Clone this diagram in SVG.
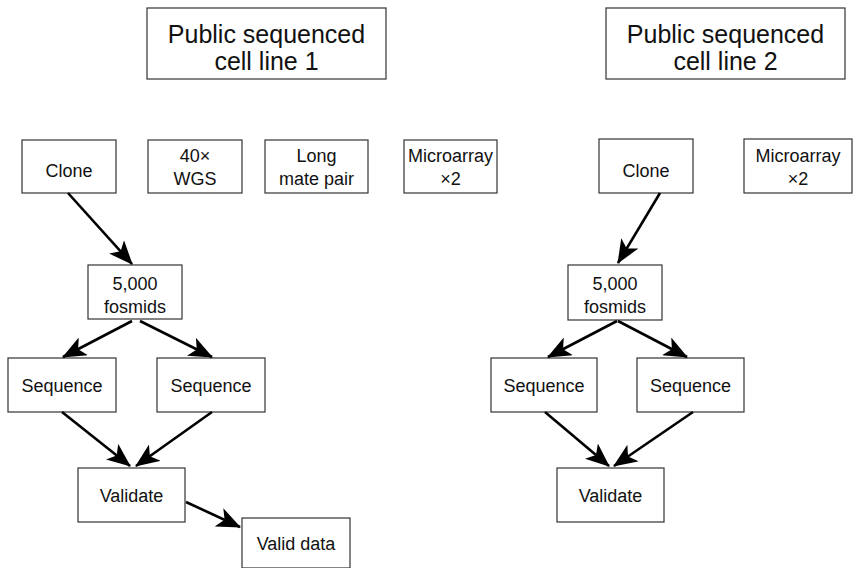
<svg xmlns="http://www.w3.org/2000/svg" width="856" height="568" viewBox="0 0 856 568">
<style>
.box{fill:#fff;stroke:#333;stroke-width:1.2}
.t{font-family:"Liberation Sans",Arial,sans-serif;font-size:18px;fill:#111;text-anchor:middle}
.title{font-family:"Liberation Sans",Arial,sans-serif;font-size:25px;fill:#111;text-anchor:middle}
.c{stroke:#000;stroke-width:2.6;fill:none;marker-end:url(#ah)}
</style>
<defs>
<marker id="ah" markerUnits="userSpaceOnUse" viewBox="0 0 24 20" refX="23" refY="10" markerWidth="24" markerHeight="20" orient="auto">
<path d="M0,0 L24,10 L0,20 L6,10 Z" fill="#000"/>
</marker>
</defs>
<rect width="856" height="568" fill="#fff"/>
<g id="title1"><rect class="box" x="147" y="8" width="239" height="71"/><text class="title" x="266.5" y="43">Public sequenced</text><text class="title" x="266.5" y="70">cell line 1</text></g>
<g id="title2"><rect class="box" x="606" y="8" width="239" height="71"/><text class="title" x="725.5" y="43">Public sequenced</text><text class="title" x="725.5" y="70">cell line 2</text></g>
<g id="clone1"><rect class="box" x="22" y="140" width="94" height="53"/><text class="t" x="69" y="177">Clone</text></g>
<g id="wgs"><rect class="box" x="148" y="140" width="94" height="53"/><text class="t" x="195" y="162">40×</text><text class="t" x="195" y="185">WGS</text></g>
<g id="matepair"><rect class="box" x="265" y="140" width="103" height="53"/><text class="t" x="316.5" y="162">Long</text><text class="t" x="316.5" y="185">mate pair</text></g>
<g id="micro1"><rect class="box" x="404" y="140" width="93" height="53"/><text class="t" x="450.5" y="162">Microarray</text><text class="t" x="450.5" y="185">×2</text></g>
<g id="fos1"><rect class="box" x="88" y="265" width="94" height="54"/><text class="t" x="135" y="290">5,000</text><text class="t" x="135" y="313">fosmids</text></g>
<g id="seq1a"><rect class="box" x="8" y="358" width="108" height="54"/><text class="t" x="62" y="392">Sequence</text></g>
<g id="seq1b"><rect class="box" x="157" y="358" width="108" height="54"/><text class="t" x="211" y="392">Sequence</text></g>
<g id="val1"><rect class="box" x="78" y="468" width="107" height="54"/><text class="t" x="131.5" y="502">Validate</text></g>
<g id="valid"><rect class="box" x="242" y="518" width="108" height="50"/><text class="t" x="296" y="550">Valid data</text></g>
<g id="clone2"><rect class="box" x="599" y="139" width="94" height="54"/><text class="t" x="646" y="177">Clone</text></g>
<g id="micro2"><rect class="box" x="744" y="139" width="108" height="54"/><text class="t" x="798" y="162">Microarray</text><text class="t" x="798" y="185">×2</text></g>
<g id="fos2"><rect class="box" x="568" y="265" width="94" height="55"/><text class="t" x="615" y="290">5,000</text><text class="t" x="615" y="313">fosmids</text></g>
<g id="seq2a"><rect class="box" x="491" y="358" width="106" height="54"/><text class="t" x="544" y="392">Sequence</text></g>
<g id="seq2b"><rect class="box" x="637" y="358" width="107" height="54"/><text class="t" x="690.5" y="392">Sequence</text></g>
<g id="val2"><rect class="box" x="557" y="468" width="107" height="54"/><text class="t" x="610.5" y="502">Validate</text></g>
<g id="connectors">
<line class="c" x1="68" y1="193" x2="132" y2="264"/>
<line class="c" x1="132" y1="321" x2="63" y2="357"/>
<line class="c" x1="140" y1="321" x2="212" y2="357"/>
<line class="c" x1="62" y1="412" x2="130" y2="466"/>
<line class="c" x1="212" y1="412" x2="136" y2="466"/>
<line class="c" x1="186" y1="502" x2="240" y2="527"/>
<line class="c" x1="660" y1="193" x2="618" y2="263"/>
<line class="c" x1="617" y1="321" x2="548" y2="357"/>
<line class="c" x1="618" y1="321" x2="687" y2="357"/>
<line class="c" x1="545" y1="412" x2="609" y2="466"/>
<line class="c" x1="693" y1="412" x2="614" y2="466"/>
</g>
</svg>
